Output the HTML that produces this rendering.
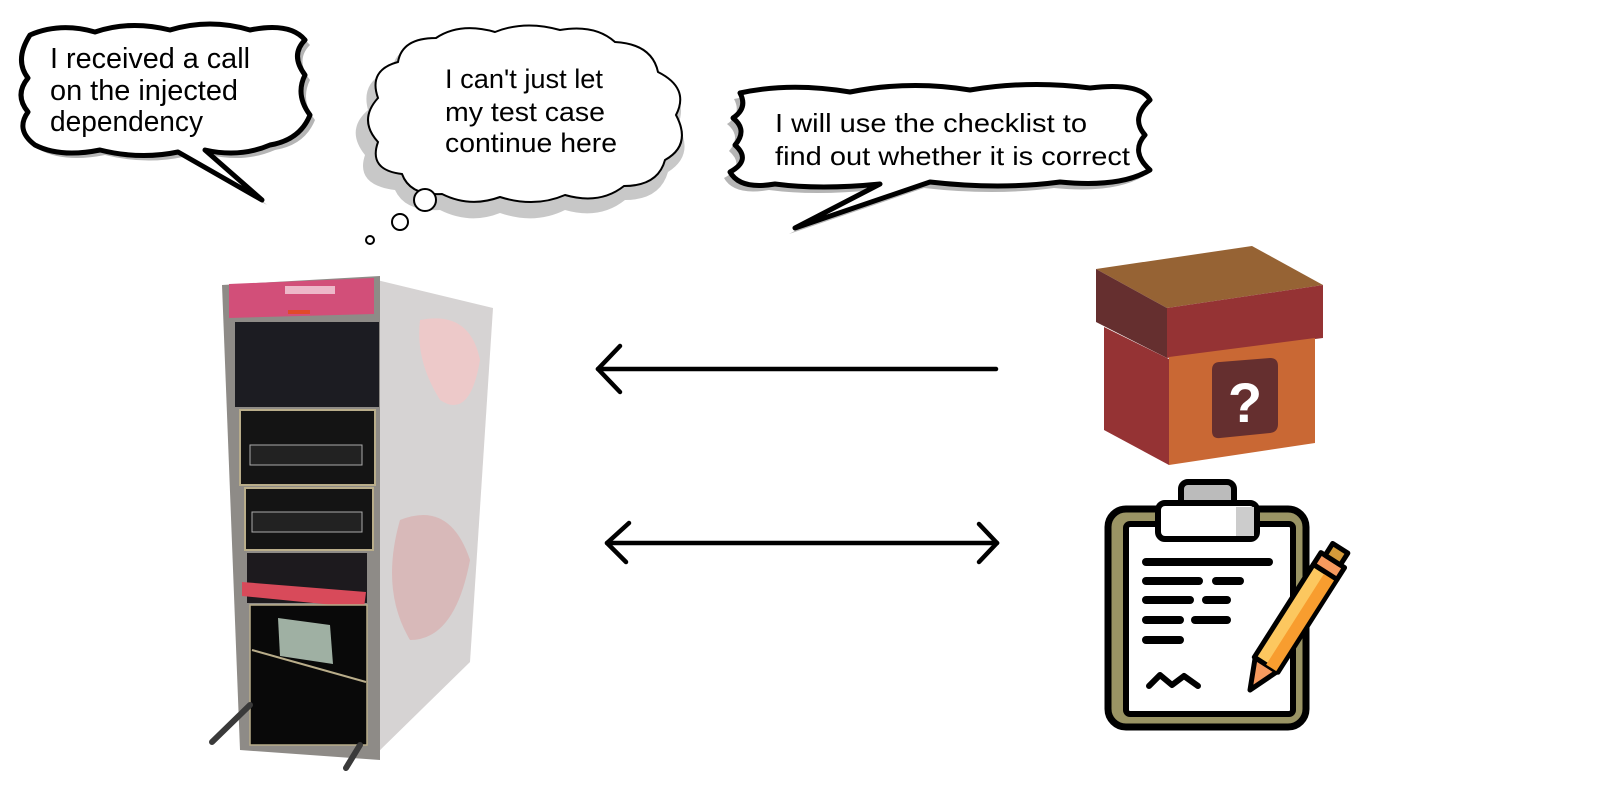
<!DOCTYPE html>
<html><head><meta charset="utf-8"><style>
html,body{margin:0;padding:0;background:#fff;}
svg{display:block;}
text{font-family:"Liberation Sans",Arial,sans-serif;fill:#000;}
</style></head><body>
<svg width="1600" height="800" viewBox="0 0 1600 800" xmlns="http://www.w3.org/2000/svg">
<rect width="1600" height="800" fill="#fff"/>

<!-- Bubble 1 -->
<g>
<path transform="translate(5,5)" fill="#b5b5b5" d="M30,35 Q60,22 95,32 Q130,20 170,30 Q210,18 250,30 Q290,22 305,40 Q290,55 305,75 Q295,95 310,115 Q300,140 270,145 Q240,158 205,150 L262,200 L178,152 Q140,160 100,150 Q60,158 35,145 Q15,130 28,112 Q14,95 28,78 Q14,60 30,35 Z"/>
<path fill="#fff" stroke="#000" stroke-width="5" stroke-linejoin="round" d="M30,35 Q60,22 95,32 Q130,20 170,30 Q210,18 250,30 Q290,22 305,40 Q290,55 305,75 Q295,95 310,115 Q300,140 270,145 Q240,158 205,150 L262,200 L178,152 Q140,160 100,150 Q60,158 35,145 Q15,130 28,112 Q14,95 28,78 Q14,60 30,35 Z"/>
<text x="50" y="68" font-size="29" textLength="200" lengthAdjust="spacingAndGlyphs">I received a call</text>
<text x="50" y="100" font-size="29" textLength="188" lengthAdjust="spacingAndGlyphs">on the injected</text>
<text x="50" y="131" font-size="29" textLength="153" lengthAdjust="spacingAndGlyphs">dependency</text>
</g>

<!-- Bubble 2 (thought) -->
<g>
<path fill="#c8c8c8" d="M368,110 Q360,80 392,70 Q395,45 430,45 Q455,28 490,38 Q520,26 555,36 Q590,30 610,48 Q650,50 655,80 Q690,95 678,125 Q695,155 668,172 Q660,200 625,200 Q600,220 565,210 Q535,225 500,213 Q470,225 440,210 Q405,212 395,190 Q355,185 365,155 Q345,130 368,110 Z"/>
<path fill="#888" d="M380,120 Q372,98 400,88 L395,140 Q370,150 380,120 Z" opacity="0.6"/>
<path fill="#fff" stroke="#000" stroke-width="2" d="M378,98 Q368,70 398,62 Q402,38 436,38 Q460,22 495,32 Q525,20 560,30 Q595,24 615,42 Q652,44 658,72 Q690,88 676,115 Q692,145 665,160 Q658,186 624,186 Q600,205 565,195 Q535,208 500,197 Q470,208 442,194 Q410,196 402,174 Q368,170 378,142 Q358,120 378,98 Z"/>
<circle cx="425" cy="200" r="11" fill="#fff" stroke="#000" stroke-width="2"/>
<circle cx="400" cy="222" r="8" fill="#fff" stroke="#000" stroke-width="2"/>
<circle cx="370" cy="240" r="4" fill="#fff" stroke="#000" stroke-width="2"/>
<text x="445" y="88" font-size="27" textLength="158" lengthAdjust="spacingAndGlyphs">I can't just let</text>
<text x="445" y="121" font-size="27" textLength="160" lengthAdjust="spacingAndGlyphs">my test case</text>
<text x="445" y="152" font-size="27" textLength="172" lengthAdjust="spacingAndGlyphs">continue here</text>
</g>

<!-- Bubble 3 -->
<g>
<path transform="translate(-6,6)" fill="#b5b5b5" d="M740,93 Q790,82 850,92 Q910,80 970,90 Q1030,80 1090,88 Q1140,82 1150,100 Q1130,118 1145,135 Q1130,152 1150,170 Q1120,188 1060,182 Q1000,190 930,182 L795,228 L880,184 Q820,190 775,184 Q740,190 730,172 Q752,160 735,145 Q748,130 733,118 Q748,108 740,93 Z"/>
<path fill="#fff" stroke="#000" stroke-width="5" stroke-linejoin="round" d="M740,93 Q790,82 850,92 Q910,80 970,90 Q1030,80 1090,88 Q1140,82 1150,100 Q1130,118 1145,135 Q1130,152 1150,170 Q1120,188 1060,182 Q1000,190 930,182 L795,228 L880,184 Q820,190 775,184 Q740,190 730,172 Q752,160 735,145 Q748,130 733,118 Q748,108 740,93 Z"/>
<text x="775" y="132" font-size="26" textLength="312" lengthAdjust="spacingAndGlyphs">I will use the checklist to</text>
<text x="775" y="165" font-size="26" textLength="355" lengthAdjust="spacingAndGlyphs">find out whether it is correct</text>
</g>

<!-- Computer -->
<g>
<polygon points="377,280 493,308 470,662 372,758" fill="#d6d3d3"/>
<path d="M420,320 Q470,310 480,360 Q470,420 440,400 Q415,360 420,320 Z" fill="#f2c7c7" opacity="0.8"/>
<path d="M400,520 Q450,500 470,560 Q455,640 410,640 Q380,590 400,520 Z" fill="#d9a8a8" opacity="0.6"/>
<polygon points="222,285 380,276 380,760 240,750" fill="#8e8b87"/>
<polygon points="229,284 374,278 374,314 229,318" fill="#d24f79"/>
<rect x="285" y="286" width="50" height="8" fill="#fff" opacity="0.6"/>
<rect x="288" y="310" width="22" height="4" fill="#e04a2a"/>
<rect x="235" y="322" width="144" height="85" fill="#1c1c22"/>
<rect x="240" y="410" width="135" height="75" fill="#141414" stroke="#b9ad8a" stroke-width="2"/>
<rect x="250" y="445" width="112" height="20" fill="#222" stroke="#aaa" stroke-width="1"/>
<rect x="245" y="488" width="128" height="62" fill="#141414" stroke="#b9ad8a" stroke-width="2"/>
<rect x="252" y="512" width="110" height="20" fill="#222" stroke="#aaa" stroke-width="1"/>
<rect x="247" y="553" width="120" height="50" fill="#1d1a1e"/>
<polygon points="242,582 366,592 364,608 242,596" fill="#d84a5a"/>
<rect x="250" y="605" width="117" height="140" fill="#090909" stroke="#b9ad8a" stroke-width="1.5"/>
<line x1="252" y1="650" x2="366" y2="682" stroke="#b9ad8a" stroke-width="2"/>
<polygon points="278,618 330,625 333,664 280,656" fill="#9fb0a3"/>
<line x1="250" y1="705" x2="212" y2="742" stroke="#3a3a3a" stroke-width="6" stroke-linecap="round"/>
<line x1="360" y1="745" x2="346" y2="768" stroke="#3a3a3a" stroke-width="6" stroke-linecap="round"/>
</g>

<!-- Arrows -->
<g stroke="#000" stroke-width="4.5" stroke-linecap="round" fill="none" stroke-linejoin="round">
<line x1="598" y1="369" x2="996" y2="369"/>
<polyline points="620,346 598,369 620,392"/>
<line x1="607" y1="543" x2="997" y2="543"/>
<polyline points="629,523 607,543 626,562"/>
<polyline points="979,524 997,543 979,562"/>
</g>

<!-- Box -->
<g>
<polygon points="1096,269 1252,246 1323,285 1167,308" fill="#966334"/>
<polygon points="1096,269 1167,308 1167,358 1096,322" fill="#652f2f"/>
<polygon points="1167,308 1323,285 1323,338 1167,358" fill="#953334"/>
<polygon points="1104,327 1169,359 1169,465 1104,430" fill="#953334"/>
<polygon points="1169,357 1315,338 1315,443 1169,465" fill="#c96834"/>
<path d="M1220,362 L1270,358 Q1278,358 1278,366 L1278,424 Q1278,432 1270,433 L1220,438 Q1212,439 1212,431 L1212,370 Q1212,362 1220,362 Z" fill="#652f2f"/>
<text x="1245" y="422" font-size="56" font-weight="bold" text-anchor="middle" style="fill:#fff">?</text>
</g>

<!-- Clipboard -->
<g stroke-linecap="round" stroke-linejoin="round">
<rect x="1108" y="509" width="198" height="218" rx="18" fill="#9a9464" stroke="#000" stroke-width="7"/>
<rect x="1126" y="524" width="167" height="190" rx="4" fill="#fff" stroke="#000" stroke-width="6"/>
<rect x="1181" y="482" width="53" height="26" rx="7" fill="#bbb" stroke="#000" stroke-width="6"/>
<rect x="1158" y="503" width="99" height="36" rx="7" fill="#fff" stroke="#000" stroke-width="6"/>
<rect x="1236" y="507" width="18" height="29" fill="#ccc"/>
<g stroke="#000" stroke-width="8" fill="none">
<line x1="1146" y1="562" x2="1269" y2="562"/>
<line x1="1146" y1="581" x2="1199" y2="581"/><line x1="1216" y1="581" x2="1240" y2="581"/>
<line x1="1146" y1="600" x2="1190" y2="600"/><line x1="1206" y1="600" x2="1227" y2="600"/>
<line x1="1146" y1="620" x2="1180" y2="620"/><line x1="1195" y1="620" x2="1227" y2="620"/>
<line x1="1146" y1="640" x2="1180" y2="640"/>
<polyline points="1149,686 1160,675 1172,685 1184,676 1198,686" stroke-width="6"/>
</g>
<g transform="translate(1250,690) rotate(-57.5)">
<polygon points="0,0 30,-13 30,13" fill="#f79a5e" stroke="#000" stroke-width="5"/>
<rect x="30" y="-14" width="110" height="28" fill="#fcc75f" stroke="#000" stroke-width="5"/>
<rect x="30" y="0" width="110" height="12" fill="#f89d2f"/>
<rect x="140" y="-14" width="14" height="28" fill="#f79a5e" stroke="#000" stroke-width="5"/>
<rect x="154" y="-9" width="14" height="18" fill="#d49a3a" stroke="#000" stroke-width="5"/>
</g>
</g>
</svg>
</body></html>
